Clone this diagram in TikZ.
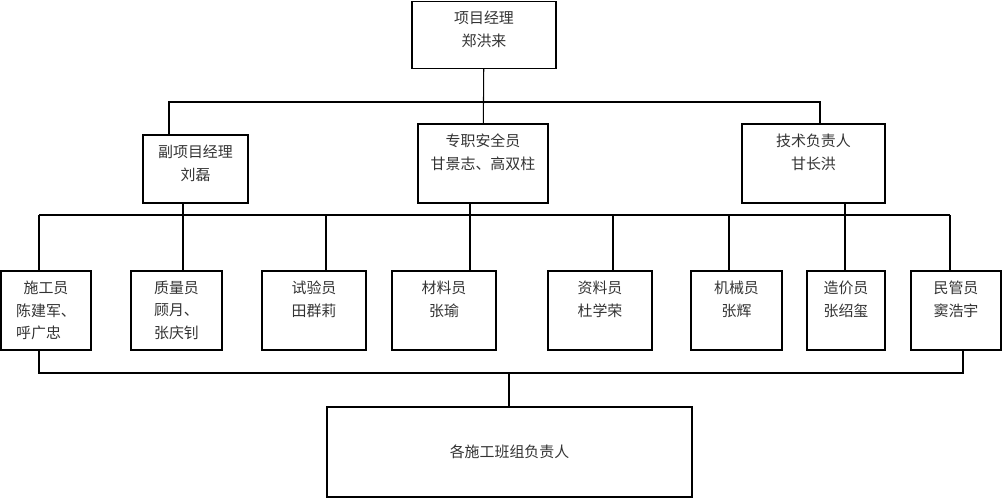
\documentclass[tikz,border=0pt]{standalone}
\usepackage{fontspec}
\setmainfont{Noto Sans CJK SC}
\tikzstyle{line} = [draw, line width=0.6pt]

\begin{document}
\begin{tikzpicture}[x=0.02cm, y=-0.02cm, font=\fontsize{8.5}{13}\selectfont]
        \tikzstyle{block} = [rectangle, draw, line width=0.8pt, inner sep=0pt]
        \tikzstyle{title} = [anchor=north, inner sep=0pt, yshift=-0.2cm,
        align=center, text=black!80]
        \useasboundingbox (0,0) rectangle (1007,500);

        % top and second level
        \node [block, minimum width=2.88cm, minimum height=1.34cm,
            label={[title]north:项目经理\\郑洪来}] (node0) at (484,35) {};
        \node [block, minimum width=2.1cm, minimum height=1.36cm,
            label={[title]north:副项目经理\\刘磊}] (node1) at (195.5,169) {};
        \node [block, minimum width=2.6cm, minimum height=1.58cm,
            label={[title]north:专职安全员\\甘景志、高双柱}] (node2) at (483,163.5) {};
        \node [block, minimum width=2.86cm, minimum height=1.58cm,
            label={[title]north:技术负责人\\甘长洪}] (node3) at (813.5,163.5) {};

        % staff row
        \node [block, minimum width=1.8cm, minimum height=1.58cm,
            label={[title]north:施工员\\陈建军、\\呼广忠\phantom{、}}] (node4) at (46,310.5) {};
        \node [block, minimum width=1.82cm, minimum height=1.58cm,
            label={[title]north:质量员\\顾月、\\张庆钊}] (node5) at (176.5,310.5) {};
        \node [block, minimum width=2.08cm, minimum height=1.58cm,
            label={[title]north:试验员\\田群莉}] (node6) at (314,310.5) {};
        \node [block, minimum width=2.08cm, minimum height=1.58cm,
            label={[title]north:材料员\\张瑜}] (node7) at (444,310.5) {};
        \node [block, minimum width=2.08cm, minimum height=1.58cm,
            label={[title]north:资料员\\杜学荣}] (node8) at (600,310.5) {};
        \node [block, minimum width=1.82cm, minimum height=1.58cm,
            label={[title]north:机械员\\张辉}] (node9) at (736.5,310.5) {};
        \node [block, minimum width=1.56cm, minimum height=1.58cm,
            label={[title]north:造价员\\张绍玺}] (node10) at (846,310.5) {};
        \node [block, minimum width=1.8cm, minimum height=1.58cm,
            label={[title]north:民管员\\窦浩宇}] (node11) at (956,310.5) {};

        \node [block, minimum width=7.3cm, minimum height=1.8cm, text=black!80]
            (node12) at (509.5,452) {各施工班组负责人};

        % buses
        \coordinate (t1) at (169,102);
        \coordinate (t3) at (820,102);
        \foreach \x [count=\i] in {39,183,326,470,613,729,845,950}
            \coordinate (m\i) at (\x,215);
        \coordinate (b1) at (39,373);
        \coordinate (b0) at (509,373);
        \coordinate (b8) at (963,373);

        \draw [line] (node0) -- (node2);
        \draw [line] (t1 |- node1.north) -- (t1) -- (t3) -- (t3 |- node3.north);

        \draw [line] (m1) -- (m8);
        \draw [line] (m2 |- node1.south) -- (m2 |- node5.north);
        \draw [line] (m4 |- node2.south) -- (m4 |- node7.north);
        \draw [line] (m7 |- node3.south) -- (m7 |- node10.north);
        \draw [line] (m1) -- (m1 |- node4.north);
        \draw [line] (m3) -- (m3 |- node6.north);
        \draw [line] (m5) -- (m5 |- node8.north);
        \draw [line] (m6) -- (m6 |- node9.north);
        \draw [line] (m8) -- (m8 |- node11.north);

        \draw [line] (b1 |- node4.south) -- (b1) -- (b8) -- (b8 |- node11.south);
        \draw [line] (b0 |- node12.north) -- (b0);
\end{tikzpicture}
\end{document}
